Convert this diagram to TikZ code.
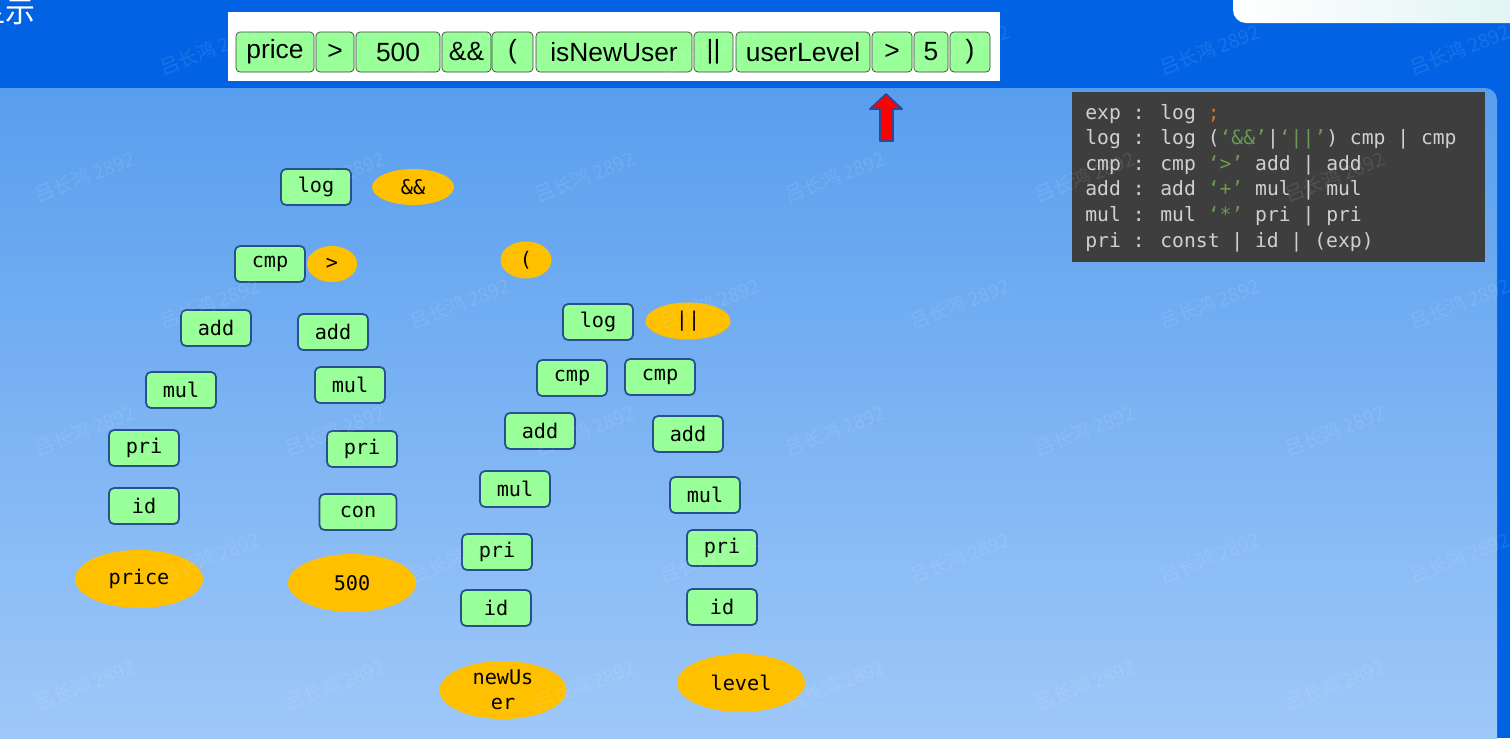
\documentclass[tikz,border=0pt]{standalone}
\usepackage{fontspec}
\usepackage{tikz}
\usetikzlibrary{shapes,positioning}
\newfontfamily\monofont{DejaVu Sans Mono}
\newfontfamily\tokfont{Liberation Sans}
\newfontfamily\cjkfont{Noto Sans CJK SC}
\definecolor{bandblue}{RGB}{2,98,228}
\definecolor{paneltop}{RGB}{88,158,238}
\definecolor{panelbot}{RGB}{162,202,249}
\definecolor{gramgreen}{RGB}{153,255,153}
\definecolor{boxline}{RGB}{40,80,140}
\definecolor{lexorange}{RGB}{255,192,0}
\definecolor{codebg}{RGB}{62,62,62}
\definecolor{codefg}{RGB}{208,208,208}
\definecolor{codestr}{RGB}{106,153,85}
\definecolor{codesemi}{RGB}{204,120,50}
\definecolor{arrowline}{RGB}{50,70,150}
\definecolor{capsule}{RGB}{222,244,242}

\begin{document}
\begin{tikzpicture}
			[x=0.02cm,y=-0.02cm,
			gram/.style={shape=rectangle,draw=boxline,fill=gramgreen,rounded corners=0.1cm,
				line width=1pt,minimum width=1.4cm,minimum height=0.72cm,inner sep=0pt,
				font=\monofont\fontsize{11.5}{14}\selectfont},
			lex/.style={shape=ellipse,fill=lexorange,minimum width=1.64cm,minimum height=0.72cm,
				inner sep=0pt,font=\monofont\fontsize{11.5}{14}\selectfont},
			leaf/.style={lex,minimum width=2.56cm,minimum height=1.16cm},
			tok/.style={shape=rectangle,draw=black!75,fill=gramgreen,rounded corners=0.08cm,
				minimum height=0.8cm,inner sep=0pt,font=\tokfont\fontsize{15}{18}\selectfont},
			code/.style={anchor=base west,inner sep=0pt,text=codefg,
				font=\monofont\fontsize{11.2}{14}\selectfont},
			wm/.style={text=white,opacity=0.1,rotate=21,font=\cjkfont\fontsize{11}{13}\selectfont}]
			\clip (0,0) rectangle (1510,738);
			
			% background
			\fill [bandblue] (0,0) rectangle (1510,738);
			\shade [left color=white,right color=capsule,rounded corners=0.26cm] (1233,-30) rectangle (1540,23);
			\shade [top color=paneltop,bottom color=panelbot,rounded corners=0.24cm] (-20,88) rectangle (1497,770);
			\node (title) [anchor=east,text=white,inner sep=0pt,font=\cjkfont\fontsize{17}{20}\selectfont] at (36,12) {显示};
			
			% token stream
			\fill [white] (228,12) rectangle (1000,81);
			\node (t1) [tok,minimum width=1.56cm] at (275,52) {price};
			\node (t2) [tok,minimum width=0.76cm] at (335,52) {>};
			\node (t3) [tok,minimum width=1.68cm] at (398,52) {500};
			\node (t4) [tok,minimum width=0.98cm] at (466.5,52) {\&\&};
			\node (t5) [tok,minimum width=0.82cm] at (512.5,52) {(};
			\node (t6) [tok,minimum width=3.12cm] at (614,52) {isNewUser};
			\node (t7) [tok,minimum width=0.78cm] at (713.5,52) {||};
			\node (t8) [tok,minimum width=2.68cm] at (803,52) {userLevel};
			\node (t9) [tok,minimum width=0.8cm] at (892,52) {>};
			\node (t10) [tok,minimum width=0.68cm] at (931,52) {5};
			\node (t11) [tok,minimum width=0.8cm] at (970,52) {)};
			
			% cursor
			\draw [fill=red,draw=arrowline,line width=1pt,line join=round]
				(886,94) -- (902,109) -- (893,109) -- (893,141) -- (880,141) -- (880,109) -- (870,109) -- cycle;
			
			% grammar
			\fill [codebg] (1072,92) rectangle (1485,262);
			\node (g1) [code] at (1085,119) {exp : log \textcolor{codesemi}{;}};
			\node (g2) [code] at (1085,144.6) {log : log (\textcolor{codestr}{‘\&\&’}|\textcolor{codestr}{‘||’}) cmp | cmp};
			\node (g3) [code] at (1085,170.2) {cmp : cmp \textcolor{codestr}{‘>’} add | add};
			\node (g4) [code] at (1085,195.8) {add : add \textcolor{codestr}{‘+’} mul | mul};
			\node (g5) [code] at (1085,221.4) {mul : mul \textcolor{codestr}{‘*’} pri | pri};
			\node (g6) [code] at (1085,247) {pri : const | id | (exp)};
			
			% left part: price > 500
			\node (log1) [gram] at (316,187) {log};
			\node (and) [lex] at (413,187) {\&\&};
			\node (cmp1) [gram] at (270,264) {cmp};
			\node (gt) [lex,minimum width=1cm] at (332,264) {>};
			\node (add1) [gram] at (216,328) {add};
			\node (add2) [gram] at (333,332) {add};
			\node (mul1) [gram] at (181,390) {mul};
			\node (mul2) [gram] at (350,385) {mul};
			\node (pri1) [gram] at (144,448) {pri};
			\node (pri2) [gram] at (362,449) {pri};
			\node (id1) [gram] at (144,506) {id};
			\node (con) [gram,minimum width=1.54cm] at (358,512) {con};
			\node (price) [leaf] at (139,579) {price};
			\node (num) [leaf] at (352,583) {500};
			
			% right part: ( isNewUser || userLevel > 5 )
			\node (lp) [lex,minimum width=1.02cm,minimum height=0.74cm] at (526,260) {(};
			\node (log2) [gram] at (598,322) {log};
			\node (or) [lex,minimum width=1.7cm,minimum height=0.74cm] at (688,321) {||};
			\node (cmp2) [gram] at (572,378) {cmp};
			\node (cmp3) [gram] at (660,377) {cmp};
			\node (add3) [gram] at (540,431) {add};
			\node (add4) [gram] at (688,434) {add};
			\node (mul3) [gram] at (515,489) {mul};
			\node (mul4) [gram] at (705,495) {mul};
			\node (pri3) [gram] at (497,552) {pri};
			\node (pri4) [gram] at (722,548) {pri};
			\node (id3) [gram] at (496,608) {id};
			\node (id4) [gram] at (722,607) {id};
			\node (user) [leaf,minimum width=2.54cm,align=center] at (503,690) {newUs\\er};
			\node (level) [leaf] at (741,683) {level};
			
			% watermark
			\foreach \r in {0,...,5} {
				\pgfmathsetmacro{\wy}{50+127*\r}
				\pgfmathsetmacro{\wx}{isodd(\r) ? 85 : 210}
				\foreach \k in {0,...,6}
					\node [wm] at (\wx+250*\k,\wy) {吕长鸿 2892};
			}
\end{tikzpicture}
\end{document}
